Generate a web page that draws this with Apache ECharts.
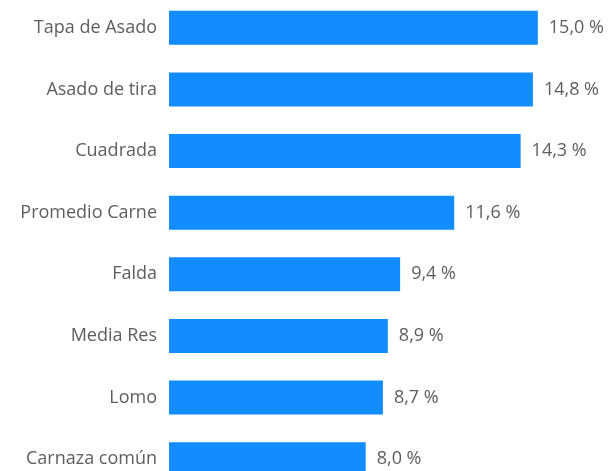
<!DOCTYPE html>
<html>
<head>
	<meta charset="UTF-8">
	<title></title>
	<script src="https://cdn.jsdelivr.net/npm/echarts@6/dist/echarts.min.js"></script>
	<style>
		html, body { margin: 0; padding: 0; background: #fff; overflow: hidden; }
	</style>
</head>
<body>

<!-- el grafico sigue por debajo del borde, la ultima barra queda cortada -->
<div id="main" style="width: 611px;height:493px;margin-top:-3px;"></div>

<script>
	// categorias (de arriba hacia abajo) y variacion en %
	var categorias = ['Tapa de Asado', 'Asado de tira', 'Cuadrada', 'Promedio Carne', 'Falda', 'Media Res', 'Lomo', 'Carnaza común'];
	var valores = [15.0, 14.8, 14.3, 11.6, 9.4, 8.9, 8.7, 8.0];

	function initData(){
		var myChart = echarts.init(document.getElementById('main'));
		var option = {
			animation: false,
			grid: {
				left: 169,
				right: 24,
				top: 0,
				bottom: 0,
				containLabel: false
			},
			xAxis: {
				type: 'value',
				min: 0,
				max: 17,
				show: false
			},
			yAxis: {
				type: 'category',
				inverse: true, // primer elemento arriba
				data: categorias,
				axisLine: { show: false },
				axisTick: { show: false },
				splitLine: { show: false },
				axisLabel: {
					margin: 12,
					color: '#605E5C',
					fontFamily: 'Open Sans',
					fontSize: 18
				}
			},
			series: [
				{
					type: 'bar',
					data: valores,
					barWidth: 34,
					itemStyle: { color: '#118DFF' },
					label: {
						show: true,
						position: 'right',
						distance: 11,
						color: '#605E5C',
						fontFamily: 'Open Sans',
						fontSize: 18,
						formatter: function(p){
							return p.value.toFixed(1).replace('.', ',') + ' %';
						}
					}
				}
			]
		};
		myChart.setOption(option);
	}

	initData();
</script>
</body>
</html>
